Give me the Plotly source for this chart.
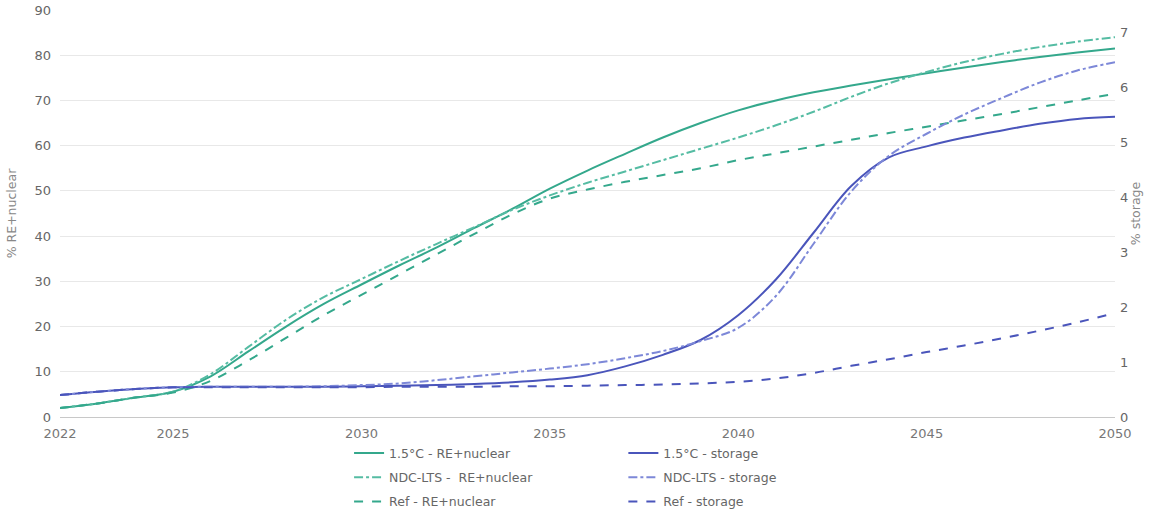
import plotly.graph_objects as go

years = list(range(2022, 2051))

re_15 = [2.0, 3.0, 4.3, 5.6, 9.0, 14.5, 20.0, 25.0, 29.3, 33.5, 37.5, 41.8, 46.0, 50.5,
         54.5, 58.2, 61.8, 65.0, 67.8, 70.0, 71.8, 73.3, 74.7, 76.0, 77.3, 78.5, 79.6, 80.6, 81.5]
re_ndc = [2.0, 3.0, 4.3, 5.6, 9.5, 15.5, 21.5, 26.5, 30.5, 34.5, 38.3, 42.0, 45.8, 49.0,
          51.8, 54.3, 56.8, 59.3, 61.8, 64.5, 67.5, 70.8, 73.8, 76.3, 78.5, 80.3, 81.8, 83.0, 84.0]
re_ref = [2.0, 3.0, 4.3, 5.4, 8.0, 12.5, 17.5, 22.5, 27.0, 31.5, 36.0, 40.5, 44.8, 48.3,
          50.3, 52.0, 53.5, 55.0, 56.8, 58.3, 59.8, 61.3, 62.8, 64.2, 65.6, 67.0, 68.5, 70.0, 71.5]

st_15 = [0.40, 0.46, 0.51, 0.54, 0.55, 0.55, 0.55, 0.55, 0.56, 0.57, 0.58, 0.60, 0.63, 0.68,
         0.76, 0.92, 1.13, 1.40, 1.85, 2.50, 3.35, 4.20, 4.72, 4.92, 5.08, 5.21, 5.33, 5.42, 5.46]
st_ndc = [0.40, 0.46, 0.51, 0.54, 0.55, 0.55, 0.55, 0.56, 0.58, 0.61, 0.67, 0.74, 0.81, 0.88,
          0.96, 1.07, 1.20, 1.38, 1.62, 2.20, 3.15, 4.10, 4.75, 5.15, 5.50, 5.80, 6.08, 6.30, 6.45]
st_ref = [0.40, 0.46, 0.51, 0.54, 0.54, 0.54, 0.54, 0.54, 0.54, 0.55, 0.55, 0.55, 0.56, 0.56,
          0.57, 0.58, 0.59, 0.61, 0.64, 0.70, 0.80, 0.93, 1.05, 1.18, 1.30, 1.43, 1.57, 1.72, 1.89]

left_ticks = [0, 10, 20, 30, 40, 50, 60, 70, 80, 90]
right_ticks = [0, 1, 2, 3, 4, 5, 6, 7]
x_ticks = [2022, 2025, 2030, 2035, 2040, 2045, 2050]

GREEN = "#34a88c"
GREEN_L = "#55bca3"
BLUE = "#4a55bb"
BLUE_L = "#7d88d8"

fig = go.Figure()
specs = [
    ("1.5°C - RE+nuclear", re_15, GREEN, "solid", "y", "legend"),
    ("NDC-LTS -  RE+nuclear", re_ndc, GREEN_L, "dashdot", "y", "legend"),
    ("Ref - RE+nuclear", re_ref, GREEN, "dash", "y", "legend"),
    ("1.5°C - storage", st_15, BLUE, "solid", "y2", "legend2"),
    ("NDC-LTS - storage", st_ndc, BLUE_L, "dashdot", "y2", "legend2"),
    ("Ref - storage", st_ref, BLUE, "dash", "y2", "legend2"),
]
for name, vals, col, dash, ax, lg in specs:
    fig.add_trace(go.Scatter(x=years, y=vals, name=name, yaxis=ax, mode="lines",
                             legend=lg, legendgroup=name,
                             line=dict(color=col, width=2, dash=dash, shape="spline")))

leg_common = dict(orientation="v", yanchor="top", y=-0.0526, tracegroupgap=5,
                  font=dict(size=12.5, color="#666", family="DejaVu Sans"),
                  bgcolor="rgba(0,0,0,0)", itemwidth=30)

fig.update_layout(
    width=1149, height=513,
    margin=dict(l=60, r=34, t=10, b=96, autoexpand=False),
    paper_bgcolor="white", plot_bgcolor="white",
    font=dict(family="DejaVu Sans", size=12, color="#666"),
    xaxis=dict(range=[2022, 2050], tickvals=x_ticks, showgrid=False,
               showline=True, linecolor="#c8c8c8", ticks="", ticklabelstandoff=4,
               tickfont=dict(size=13, color="#777")),
    yaxis=dict(range=[0, 90], tickvals=left_ticks, gridcolor="#e8e8e8",
               zeroline=False, ticklabelstandoff=8, ticklabeloverflow="allow",
               tickfont=dict(size=13, color="#666"),
               title=dict(text="% RE+nuclear", font=dict(size=12.5, color="#888"), standoff=15)),
    yaxis2=dict(range=[0, 7.4], tickvals=right_ticks, overlaying="y", side="right",
                showgrid=False, zeroline=False, ticklabelstandoff=4,
                ticklabeloverflow="allow", tickfont=dict(size=13, color="#666"),
                title=dict(text="% storage", font=dict(size=12.5, color="#888"), standoff=0)),
    legend=dict(x=0.274, xanchor="left", **leg_common),
    legend2=dict(x=0.534, xanchor="left", **leg_common),
    showlegend=True,
)

fig.write_html("out.html", config={"displayModeBar": False},
               post_script="document.body.style.margin='0';")
